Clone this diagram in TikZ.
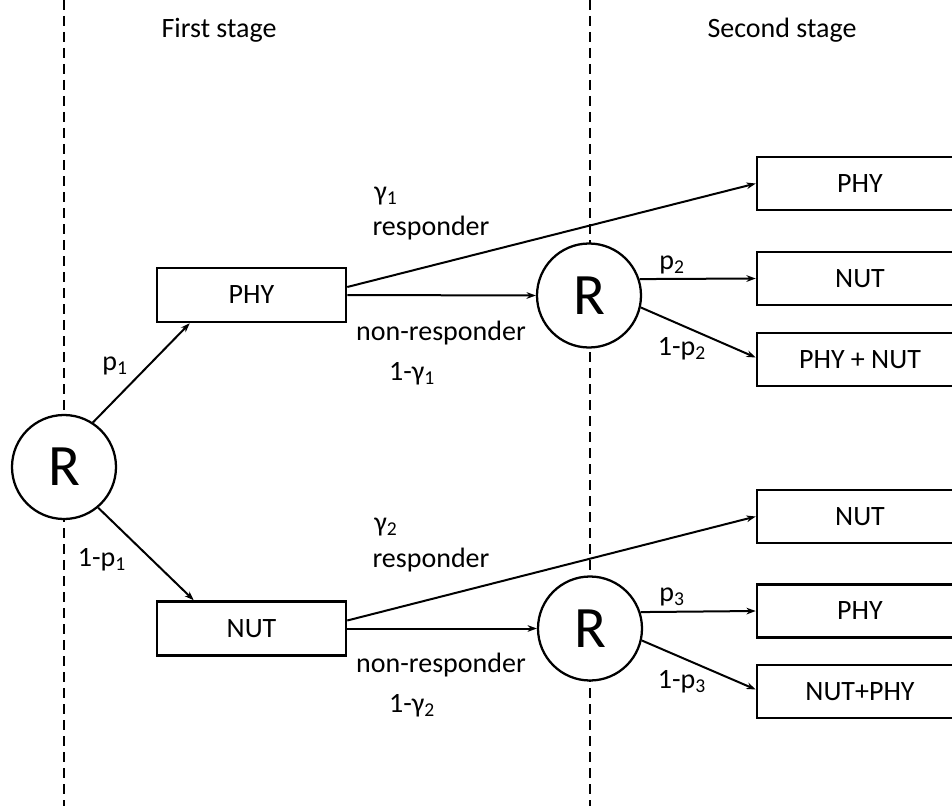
\documentclass[tikz,border=0pt]{standalone}
\usepackage{fontspec}
\setmainfont{Carlito}
\usetikzlibrary{arrows.meta,calc}
\begin{document}
\begin{tikzpicture}[x=0.75pt,y=-0.75pt,
  txt/.style={inner sep=0pt,font=\fontsize{21}{25}\selectfont},
  boxA/.style={draw,line width=1.9pt,minimum width=141.75pt,minimum height=40.5pt,inner sep=0pt,font=\fontsize{21}{25}\selectfont},
  boxB/.style={draw,line width=1.9pt,minimum width=154.5pt,minimum height=39.75pt,inner sep=0pt,font=\fontsize{21}{25}\selectfont},
  rnode/.style={draw,circle,fill=white,line width=1.7pt,minimum size=78pt,inner sep=0pt,font=\fontsize{44}{48}\selectfont},
  sep/.style={line width=1.6pt,dash pattern=on 7.5pt off 4.5pt},
  arr/.style={line width=1.5pt,-{Stealth[length=7pt,width=5pt]}}]
\useasboundingbox (0,0) rectangle (952,806);
\clip (0,0) rectangle (952,806);
% separators
\coordinate (s1t) at (64,0);
\coordinate (s1b) at (64,806);
\coordinate (s2t) at (590,0);
\coordinate (s2b) at (590,806);
\draw[sep] (s1t) -- (s1b);
\draw[sep] (s2t) -- (s2b);
% stage titles
\node[txt] (t1) at (219,30) {First stage};
\node[txt] (t2) at (782,30) {Second stage};
% nodes
\node[rnode] (r1) at (64,467) {R};
\node[rnode] (r2) at (589,295.5) {R};
\node[rnode] (r3) at (590,628.5) {R};
\node[boxA] (phy1) at (251.5,295) {PHY};
\node[boxA] (nut1) at (251.5,628.5) {NUT};
\node[boxB] (rphy) at (860,183.5) {PHY};
\node[boxB] (rnut) at (860,278.5) {NUT};
\node[boxB] (rphynut) at (860,359.5) {PHY + NUT};
\node[boxB] (rnut2) at (860,516.5) {NUT};
\node[boxB] (rphy2) at (860,611) {PHY};
\node[boxB] (rnutphy) at (860,691.5) {NUT+PHY};
% connectors
\draw[arr] (r1.57) -- ($(phy1.south west)+(34,0)$);
\draw[arr] (r1.-50) -- ($(nut1.north west)+(38,0)$);
\draw[arr] ($(phy1.east)+(0,-8)$) -- (rphy.west);
\draw[arr] (phy1.east) -- (r2.west);
\draw[arr] (r2.18) -- (rnut.west);
\draw[arr] (r2.-13) -- ($(rphynut.west)+(0,-2)$);
\draw[arr] ($(nut1.east)+(0,-8)$) -- (rnut2.west);
\draw[arr] (nut1.east) -- (r3.west);
\draw[arr] (r3.18) -- (rphy2.west);
\draw[arr] (r3.-13) -- ($(rnutphy.west)+(0,-2)$);
% labels
\node[txt] (lp1) at (115,366) {p\textsubscript{1}};
\node[txt] (lq1) at (102,560) {1-p\textsubscript{1}};
\node[txt] (lg1) at (386,196) {γ\textsubscript{1}};
\node[txt] (lr1) at (431,228) {responder};
\node[txt] (ln1) at (441,333) {non-responder};
\node[txt] (lm1) at (412,374) {1-γ\textsubscript{1}};
\node[txt] (lg2) at (386,527) {γ\textsubscript{2}};
\node[txt] (lr2) at (431,560) {responder};
\node[txt] (ln2) at (441,665) {non-responder};
\node[txt] (lm2) at (412,706) {1-γ\textsubscript{2}};
\node[txt] (lp2) at (672,265) {p\textsubscript{2}};
\node[txt] (lq2) at (682,349) {1-p\textsubscript{2}};
\node[txt] (lp3) at (672,597) {p\textsubscript{3}};
\node[txt] (lq3) at (682,682) {1-p\textsubscript{3}};
\end{tikzpicture}
\end{document}
